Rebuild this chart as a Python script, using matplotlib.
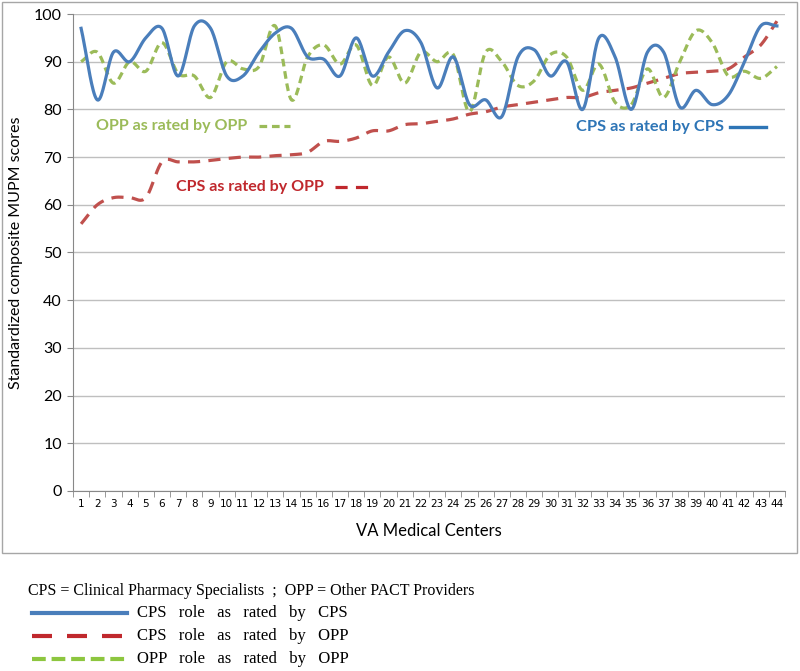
import numpy as np
import matplotlib; matplotlib.use("Agg")
import matplotlib.pyplot as plt
from matplotlib.patches import Rectangle
from matplotlib.lines import Line2D

centers = list(range(1, 45))
cps_by_cps = [97, 82, 92, 90, 95, 97, 87, 97.5, 97, 87, 87, 92, 96, 97, 91, 90.5, 87, 95, 87, 92,
              96.5, 94, 84.5, 91, 81, 82, 78.5, 91, 92.5, 87, 90, 80, 95, 91, 80, 92, 92, 80.5, 84, 81,
              83, 90, 97.5, 97.5]
cps_by_opp = [56, 60, 61.5, 61.5, 61.5, 69, 69, 69, 69.3, 69.7, 70, 70, 70.3, 70.5, 71, 73.3, 73.3, 74,
              75.5, 75.5, 76.8, 77, 77.5, 78, 79, 79.5, 80.5, 81, 81.5, 82, 82.5, 82.5, 83.5, 84, 84.5,
              85.5, 86.5, 87.5, 87.8, 88, 88.5, 91, 93.5, 98.5]
opp_by_opp = [90, 92, 85.5, 90, 88, 94, 87.5, 87, 82.5, 90, 88.5, 89, 97.5, 82, 91, 93.5, 89.5, 93.5,
              85, 91, 85.5, 92, 90, 91.5, 79.5, 92, 90, 85, 86, 91.5, 91, 84, 89.5, 81.5, 81, 88.5,
              82.5, 90, 96.5, 94, 87, 88, 86.5, 89]

BLUE, RED, GREEN = '#4A7EBB', '#C0504D', '#9BBB59'
plt.rcParams['font.family'] = ['Lato', 'DejaVu Sans']

def smooth(x, y, n=20):
    # catmull-rom style smoothing like Excel's "smoothed line"
    x = np.asarray(x, float); y = np.asarray(y, float)
    m = np.gradient(y)
    xs, ys = [], []
    for i in range(len(x) - 1):
        t = np.linspace(0, 1, n, endpoint=False)
        h00 = 2*t**3 - 3*t**2 + 1; h10 = t**3 - 2*t**2 + t
        h01 = -2*t**3 + 3*t**2; h11 = t**3 - t**2
        xs.append(x[i] + t*(x[i+1]-x[i]))
        ys.append(h00*y[i] + h10*m[i] + h01*y[i+1] + h11*m[i+1])
    xs.append([x[-1]]); ys.append([y[-1]])
    return np.concatenate(xs), np.concatenate(ys)

fig = plt.figure(figsize=(8, 6.71), dpi=100)
fig.patches.append(Rectangle((2/800, 1-553/671), 795/800, 551/671, transform=fig.transFigure,
                             fill=False, edgecolor='#A6A6A6', lw=1))
ax = fig.add_axes([73/800, 1-491/671, 712/800, 477/671])

x = np.array(centers)
ax.plot(*smooth(x, cps_by_opp), color=RED, lw=2.3, dashes=(3.8, 2.6), zorder=3)
ax.plot(*smooth(x, opp_by_opp), color=GREEN, lw=2.3, dashes=(2.4, 1.5), zorder=3)
ax.plot(*smooth(x, cps_by_cps), color=BLUE, lw=2.3, zorder=4)

ax.set_xlim(0.5, 44.5); ax.set_ylim(0, 100)
ax.set_yticks(range(0, 101, 10))
ax.yaxis.grid(True, color='#BFBFBF', lw=1); ax.set_axisbelow(True)
ax.set_xticks(centers)
ax.set_xticklabels([str(c) for c in centers], fontsize=7.5, family=['Liberation Sans Narrow', 'DejaVu Sans'])
ax.set_xticks(np.arange(0.5, 45, 1), minor=True)
ax.tick_params(axis='x', which='major', length=0, pad=6)
ax.tick_params(axis='x', which='minor', length=4, color='#888888', direction='out')
ax.tick_params(axis='y', length=4, color='#888888', labelsize=11.5, pad=4)
for s in ['top', 'right']:
    ax.spines[s].set_visible(False)
for s in ['left', 'bottom']:
    ax.spines[s].set_color('#888888')
ax.set_xlabel('VA Medical Centers', fontsize=12, labelpad=10)
ax.set_ylabel('Standardized composite MUPM scores', fontsize=11.5, labelpad=8)

# inline labels
ax.text(1.95, 76.5, 'OPP as rated by OPP', color=GREEN, fontsize=11.5, fontweight='bold', va='center')
ax.plot([12.0, 13.9], [76.5, 76.5], color=GREEN, lw=2.3, dashes=(2.4, 1.5))
ax.text(6.85, 63.7, 'CPS as rated by OPP', color='#C0282D', fontsize=11.5, fontweight='bold', va='center')
ax.plot([16.7, 19.0], [63.7, 63.7], color='#C0282D', lw=2.3, dashes=(3.8, 2.6))
ax.text(31.6, 76.3, 'CPS as rated by CPS', color='#2E75B6', fontsize=11.8, fontweight='bold', va='center')
ax.plot([41.1, 43.3], [76.3, 76.3], color='#2E75B6', lw=2.4)

# bottom key
fig.text(28/800, 1-591/671, 'CPS = Clinical Pharmacy Specialists  ;  OPP = Other PACT Providers',
         family='Liberation Serif', fontsize=11.5, va='center')
keys = [('CPS   role   as   rated   by   CPS', BLUE, None, 613),
        ('CPS   role   as   rated   by   OPP', '#C0282D', (4.8, 3.6), 636),
        ('OPP   role   as   rated   by   OPP', '#8DC63F', (3.3, 1.4), 659)]
for label, col, dash, yy in keys:
    ln = Line2D([32/800, 127/800], [1-yy/671]*2, transform=fig.transFigure, color=col, lw=3)
    if dash: ln.set_dashes(dash)
    fig.lines.append(ln)
    fig.text(137/800, 1-yy/671, label, family='Liberation Serif', fontsize=12, va='center')

fig.savefig('out.png', dpi=100)
